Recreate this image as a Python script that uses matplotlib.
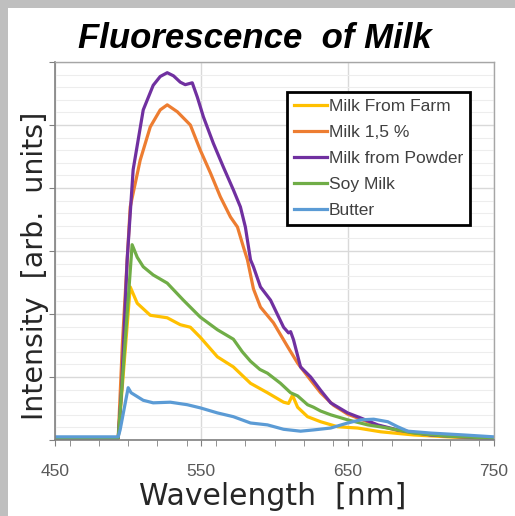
import matplotlib
matplotlib.use("Agg")
import matplotlib.pyplot as plt
from matplotlib.patches import Rectangle
from matplotlib.ticker import MultipleLocator

# Spectra (wavelength in nm, intensity in arb. units)
farm_wl = [450, 493.2, 501.4, 506.2, 515.1, 526.7, 535.6, 542.5, 549.3, 561.0,
           571.9, 583.6, 595.2, 606.2, 609.6, 612.3, 615.8, 622.6, 631.5, 643.2,
           656.8, 672.6, 695.2, 718.5, 750]
farm_int = [0.03, 0.03, 2.43, 2.17, 1.98, 1.94, 1.83, 1.79, 1.63, 1.32,
            1.16, 0.90, 0.75, 0.60, 0.58, 0.71, 0.52, 0.37, 0.29, 0.21,
            0.19, 0.13, 0.08, 0.05, 0.02]

milk15_wl = [450, 493.2, 496.0, 501.4, 508.2, 515.1, 521.9, 526.7, 533.6, 542.5,
             549.3, 556.2, 563.0, 569.9, 574.7, 578.8, 581.5, 585.6, 590.4, 599.3,
             609.0, 615.8, 624.7, 631.5, 640.4, 650.0, 658.9, 670.5, 684.2, 706.8,
             729.5, 750]
milk15_int = [0.03, 0.03, 1.5, 3.70, 4.44, 4.97, 5.24, 5.32, 5.21, 5.00,
              4.60, 4.24, 3.86, 3.54, 3.38, 3.06, 2.86, 2.40, 2.11, 1.86,
              1.48, 1.22, 0.95, 0.75, 0.55, 0.41, 0.33, 0.23, 0.15, 0.08,
              0.04, 0.02]

powder_wl = [450, 493.2, 495.5, 499.3, 503.4, 510.3, 517.1, 521.9, 526.7, 531.0,
             535.6, 539.0, 543.8, 547.3, 551.4, 558.2, 565.1, 571.9, 576.7, 580.1,
             583.6, 585.6, 590.4, 597.3, 606.2, 609.6, 611.0, 613.0, 617.8, 624.7,
             631.5, 638.4, 650.0, 658.9, 670.5, 684.2, 706.8, 729.5, 750]
powder_int = [0.03, 0.03, 0.8, 2.86, 4.29, 5.24, 5.63, 5.77, 5.83, 5.78,
              5.68, 5.64, 5.67, 5.44, 5.13, 4.71, 4.33, 3.97, 3.70, 3.38,
              2.86, 2.75, 2.43, 2.22, 1.79, 1.70, 1.72, 1.59, 1.16, 1.00,
              0.79, 0.59, 0.43, 0.35, 0.24, 0.16, 0.08, 0.05, 0.02]

soy_wl = [450, 493.2, 502.7, 506.2, 510.3, 517.1, 526.7, 537.7, 549.3, 561.0,
          571.9, 578.0, 583.6, 590.0, 595.2, 604.1, 611.0, 615.8, 622.6, 626.7,
          631.5, 638.4, 650.0, 663.7, 677.4, 695.2, 718.5, 750]
soy_int = [0.03, 0.03, 3.10, 2.90, 2.75, 2.62, 2.49, 2.22, 1.95, 1.75,
           1.60, 1.40, 1.25, 1.12, 1.06, 0.90, 0.75, 0.70, 0.56, 0.52,
           0.46, 0.40, 0.32, 0.24, 0.19, 0.11, 0.06, 0.03]

butter_wl = [450, 493.2, 494.5, 500.0, 502.0, 510.3, 517.1, 528.8, 540.4, 549.3,
             561.0, 571.9, 583.6, 595.2, 606.2, 617.8, 626.7, 638.4, 650.0, 658.9,
             667.8, 677.4, 684.2, 691.1, 706.8, 729.5, 750]
butter_int = [0.05, 0.05, 0.16, 0.83, 0.75, 0.63, 0.59, 0.60, 0.56, 0.51,
              0.43, 0.37, 0.27, 0.24, 0.17, 0.14, 0.16, 0.19, 0.27, 0.32,
              0.33, 0.29, 0.21, 0.14, 0.11, 0.08, 0.05]

series_names = ["Milk From Farm", "Milk 1,5 %", "Milk from Powder", "Soy Milk", "Butter"]
series_colors = ["#FFC000", "#ED7D31", "#7030A0", "#70AD47", "#5B9BD5"]
x_ticks = [450, 550, 650, 750]

fig = plt.figure(figsize=(5.15, 5.16), dpi=100, facecolor="#BFBFBF")
# white chart area inside the grey frame
fig.patches.append(Rectangle((8 / 515, 0), 1, 1 - 8 / 516, transform=fig.transFigure,
                             facecolor="white", edgecolor="none", zorder=-10))

ax = fig.add_axes([55 / 515, 76 / 516, 439 / 515, 378 / 516])
ax.set_zorder(2)
ax.set_facecolor("white")

all_wl = [farm_wl, milk15_wl, powder_wl, soy_wl, butter_wl]
all_int = [farm_int, milk15_int, powder_int, soy_int, butter_int]
for wl, val, name, col in zip(all_wl, all_int, series_names, series_colors):
    ax.plot(wl, val, color=col, lw=2.3, label=name, solid_joinstyle="round")

ax.set_xlim(450, 750)
ax.set_ylim(0, 6)
ax.set_xticks(x_ticks)
ax.xaxis.set_minor_locator(MultipleLocator(20))
ax.set_yticks(range(0, 7))
ax.yaxis.set_minor_locator(MultipleLocator(0.2))
ax.set_yticklabels([])
ax.grid(which="major", color="#D9D9D9", lw=1)
ax.grid(which="minor", axis="y", color="#EDEDED", lw=0.8)
ax.set_axisbelow(True)

for s in ["left", "bottom"]:
    ax.spines[s].set_color("#808080")
    ax.spines[s].set_linewidth(1.2)
for s in ["top", "right"]:
    ax.spines[s].set_color("#A6A6A6")
    ax.spines[s].set_linewidth(1.0)

ax.tick_params(axis="x", which="both", direction="out", length=4, color="#808080",
               labelsize=12.5, labelcolor="#595959", pad=13)
ax.tick_params(axis="y", which="major", direction="out", length=4, color="#808080")
ax.tick_params(axis="y", which="minor", length=0)
for lab in ax.get_xticklabels():
    lab.set_fontfamily("Liberation Sans")

leg = ax.legend(loc="upper left", bbox_to_anchor=(0.528, 0.921), borderaxespad=0,
                fancybox=False, framealpha=1, edgecolor="black",
                prop={"family": "Liberation Sans", "size": 12.5},
                handlelength=1.9, handletextpad=0.1, labelspacing=0.62,
                borderpad=0.42)
leg.get_frame().set_linewidth(2)
for t in leg.get_texts():
    t.set_color("#404040")

fig.text(255 / 515, 1 - 48 / 516, "Fluorescence  of Milk", ha="center", va="baseline",
         fontsize=25, fontweight="bold", fontstyle="italic", family="Liberation Sans")
fig.text(273 / 515, 1 - 505 / 516, "Wavelength  [nm]", ha="center", va="baseline",
         fontsize=21.5, color="#262626")
fig.text(35 / 515, 1 - 266 / 516, "Intensity  [arb.  units]", ha="center", va="center",
         rotation=90, fontsize=20.5, color="#262626")

fig.savefig("out.png", dpi=100, facecolor=fig.get_facecolor())
